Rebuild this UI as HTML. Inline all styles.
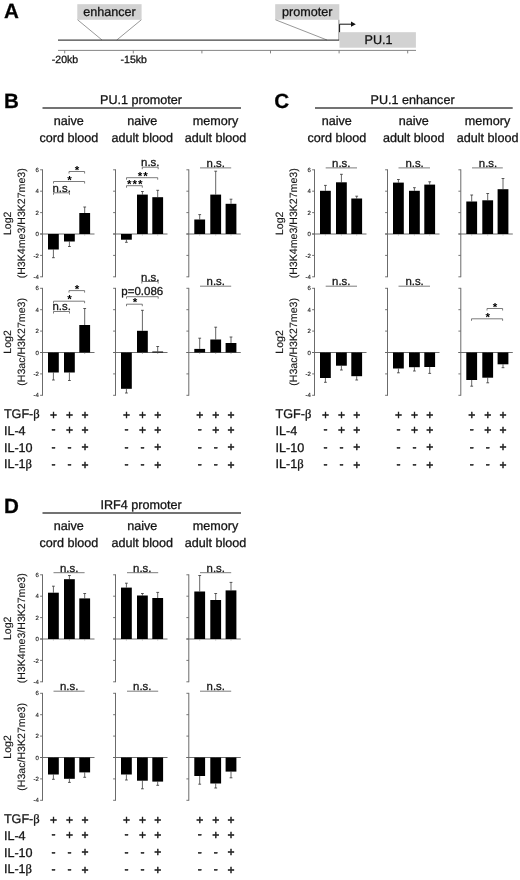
<!DOCTYPE html>
<html lang="en"><head><meta charset="utf-8"><title>Figure</title>
<style>
html,body{margin:0;padding:0;background:#fff;}
body{width:520px;height:880px;overflow:hidden;}
svg{display:block;font-family:"Liberation Sans",sans-serif;}
text{stroke:#1a1a1a;stroke-width:0.3px;text-rendering:geometricPrecision;}
text.n{stroke:none;}
text.t{stroke:#333;stroke-width:0.15px;}
text.s{stroke:#111;stroke-width:0.45px;}
</style></head><body>
<svg width="520" height="880" viewBox="0 0 520 880">
<rect width="520" height="880" fill="#fff"/>
<text x="3.90" y="18.20" font-size="20.6" text-anchor="start" fill="#000" font-weight="bold">A</text>
<rect x="77.3" y="4.2" width="64.3" height="15.6" fill="#d2d2d2"/>
<text x="109.50" y="16.10" font-size="12.6" text-anchor="middle" fill="#111">enhancer</text>
<line x1="77.60" y1="19.80" x2="102.00" y2="40.00" stroke="#999" stroke-width="1"/>
<line x1="141.30" y1="19.80" x2="116.80" y2="40.00" stroke="#999" stroke-width="1"/>
<rect x="275.2" y="4.2" width="64.1" height="15.6" fill="#d2d2d2"/>
<text x="307.30" y="16.10" font-size="12.6" text-anchor="middle" fill="#111">promoter</text>
<line x1="275.50" y1="19.80" x2="327.00" y2="40.00" stroke="#999" stroke-width="1"/>
<line x1="338.90" y1="19.80" x2="338.90" y2="40.00" stroke="#777" stroke-width="0.9"/>
<line x1="58.00" y1="40.00" x2="339.30" y2="40.00" stroke="#444" stroke-width="1.25"/>
<rect x="339.5" y="32.2" width="76.4" height="15.5" fill="#d2d2d2"/>
<text x="378.60" y="44.40" font-size="12.6" text-anchor="middle" fill="#111">PU.1</text>
<polyline points="339.6,32.2 339.6,24.2 351.5,24.2" fill="none" stroke="#111" stroke-width="1"/>
<polygon points="351,21.6 355.8,24.2 351,26.8" fill="#111"/>
<line x1="58.00" y1="50.40" x2="416.00" y2="50.40" stroke="#777" stroke-width="0.9"/>
<line x1="64.70" y1="50.40" x2="64.70" y2="53.40" stroke="#777" stroke-width="0.9"/>
<line x1="133.30" y1="50.40" x2="133.30" y2="53.40" stroke="#777" stroke-width="0.9"/>
<line x1="201.90" y1="50.40" x2="201.90" y2="53.40" stroke="#777" stroke-width="0.9"/>
<line x1="270.50" y1="50.40" x2="270.50" y2="53.40" stroke="#777" stroke-width="0.9"/>
<line x1="339.10" y1="50.40" x2="339.10" y2="53.40" stroke="#777" stroke-width="0.9"/>
<line x1="407.70" y1="50.40" x2="407.70" y2="53.40" stroke="#777" stroke-width="0.9"/>
<text x="65.00" y="63.30" font-size="10.5" text-anchor="middle" fill="#111">-20kb</text>
<text x="133.70" y="63.30" font-size="10.5" text-anchor="middle" fill="#111">-15kb</text>
<text x="4.10" y="108.30" font-size="20.6" text-anchor="start" fill="#000" font-weight="bold">B</text>
<text x="141.00" y="103.80" font-size="12.6" text-anchor="middle" fill="#111">PU.1 promoter</text>
<line x1="42.50" y1="108.00" x2="241.00" y2="108.00" stroke="#444" stroke-width="1.3"/>
<text x="68.80" y="125.00" font-size="12.6" text-anchor="middle" fill="#111">naive</text>
<text x="68.80" y="141.70" font-size="12.6" text-anchor="middle" fill="#111">cord blood</text>
<text x="142.30" y="125.00" font-size="12.6" text-anchor="middle" fill="#111">naive</text>
<text x="142.30" y="141.70" font-size="12.6" text-anchor="middle" fill="#111">adult blood</text>
<text x="215.50" y="125.00" font-size="12.6" text-anchor="middle" fill="#111">memory</text>
<text x="215.50" y="141.70" font-size="12.6" text-anchor="middle" fill="#111">adult blood</text>
<text transform="translate(11.10,223.30) rotate(-90)" class="t" font-size="10.6" text-anchor="middle" fill="#111">Log2</text>
<text transform="translate(25.30,223.30) rotate(-90)" class="t" font-size="10.6" text-anchor="middle" fill="#111">(H3K4me3/H3K27me3)</text>
<text transform="translate(11.10,341.90) rotate(-90)" class="t" font-size="10.6" text-anchor="middle" fill="#111">Log2</text>
<text transform="translate(25.30,341.90) rotate(-90)" class="t" font-size="10.6" text-anchor="middle" fill="#111">(H3ac/H3K27me3)</text>
<line x1="42.50" y1="169.40" x2="42.50" y2="277.20" stroke="#5a5a5a" stroke-width="0.9"/>
<line x1="40.10" y1="169.80" x2="42.50" y2="169.80" stroke="#666" stroke-width="0.9"/>
<text x="38.80" y="171.90" font-size="6" text-anchor="end" fill="#222" class="t">6</text>
<line x1="40.10" y1="191.20" x2="42.50" y2="191.20" stroke="#666" stroke-width="0.9"/>
<text x="38.80" y="193.30" font-size="6" text-anchor="end" fill="#222" class="t">4</text>
<line x1="40.10" y1="212.60" x2="42.50" y2="212.60" stroke="#666" stroke-width="0.9"/>
<text x="38.80" y="214.70" font-size="6" text-anchor="end" fill="#222" class="t">2</text>
<line x1="40.10" y1="234.00" x2="42.50" y2="234.00" stroke="#666" stroke-width="0.9"/>
<text x="38.80" y="236.10" font-size="6" text-anchor="end" fill="#222" class="t">0</text>
<line x1="40.10" y1="255.40" x2="42.50" y2="255.40" stroke="#666" stroke-width="0.9"/>
<text x="38.80" y="257.50" font-size="6" text-anchor="end" fill="#222" class="t">-2</text>
<line x1="40.10" y1="276.80" x2="42.50" y2="276.80" stroke="#666" stroke-width="0.9"/>
<text x="38.80" y="278.90" font-size="6" text-anchor="end" fill="#222" class="t">-4</text>
<line x1="40.10" y1="234.00" x2="94.50" y2="234.00" stroke="#666" stroke-width="0.95"/>
<line x1="53.40" y1="234.00" x2="53.40" y2="235.50" stroke="#999" stroke-width="0.7"/>
<line x1="53.40" y1="249.50" x2="53.40" y2="257.70" stroke="#333" stroke-width="0.75"/>
<line x1="52.00" y1="257.70" x2="54.80" y2="257.70" stroke="#333" stroke-width="0.8"/>
<rect x="48.00" y="234.00" width="10.80" height="15.50" fill="#000"/>
<line x1="69.40" y1="234.00" x2="69.40" y2="235.50" stroke="#999" stroke-width="0.7"/>
<line x1="69.40" y1="241.50" x2="69.40" y2="246.50" stroke="#333" stroke-width="0.75"/>
<line x1="68.00" y1="246.50" x2="70.80" y2="246.50" stroke="#333" stroke-width="0.8"/>
<rect x="64.00" y="234.00" width="10.80" height="7.50" fill="#000"/>
<line x1="84.70" y1="234.00" x2="84.70" y2="235.50" stroke="#999" stroke-width="0.7"/>
<line x1="84.70" y1="213.00" x2="84.70" y2="207.00" stroke="#333" stroke-width="0.75"/>
<line x1="83.30" y1="207.00" x2="86.10" y2="207.00" stroke="#333" stroke-width="0.8"/>
<rect x="79.30" y="213.00" width="10.80" height="21.00" fill="#000"/>
<polyline points="53.50,194.80 53.50,192.80 69.50,192.80 69.50,194.80" fill="none" stroke="#5a5a5a" stroke-width="0.8"/>
<text x="61.70" y="191.70" font-size="11.4" text-anchor="middle" fill="#111">n.s.</text>
<polyline points="53.50,183.50 53.50,181.50 84.60,181.50 84.60,183.50" fill="none" stroke="#5a5a5a" stroke-width="0.8"/>
<text x="69.50" y="183.80" font-size="11.6" text-anchor="middle" fill="#000" font-weight="bold" class="n">*</text>
<polyline points="69.00,173.50 69.00,171.50 84.60,171.50 84.60,173.50" fill="none" stroke="#5a5a5a" stroke-width="0.8"/>
<text x="77.00" y="173.90" font-size="11.6" text-anchor="middle" fill="#000" font-weight="bold" class="n">*</text>
<line x1="115.50" y1="169.40" x2="115.50" y2="277.20" stroke="#5a5a5a" stroke-width="0.9"/>
<line x1="113.10" y1="169.80" x2="115.50" y2="169.80" stroke="#666" stroke-width="0.9"/>
<line x1="113.10" y1="191.20" x2="115.50" y2="191.20" stroke="#666" stroke-width="0.9"/>
<line x1="113.10" y1="212.60" x2="115.50" y2="212.60" stroke="#666" stroke-width="0.9"/>
<line x1="113.10" y1="234.00" x2="115.50" y2="234.00" stroke="#666" stroke-width="0.9"/>
<line x1="113.10" y1="255.40" x2="115.50" y2="255.40" stroke="#666" stroke-width="0.9"/>
<line x1="113.10" y1="276.80" x2="115.50" y2="276.80" stroke="#666" stroke-width="0.9"/>
<line x1="113.10" y1="234.00" x2="167.50" y2="234.00" stroke="#666" stroke-width="0.95"/>
<line x1="126.40" y1="234.00" x2="126.40" y2="235.50" stroke="#999" stroke-width="0.7"/>
<line x1="126.40" y1="239.70" x2="126.40" y2="242.30" stroke="#333" stroke-width="0.75"/>
<line x1="125.00" y1="242.30" x2="127.80" y2="242.30" stroke="#333" stroke-width="0.8"/>
<rect x="121.00" y="234.00" width="10.80" height="5.70" fill="#000"/>
<line x1="142.40" y1="234.00" x2="142.40" y2="235.50" stroke="#999" stroke-width="0.7"/>
<line x1="142.40" y1="194.60" x2="142.40" y2="191.50" stroke="#333" stroke-width="0.75"/>
<line x1="141.00" y1="191.50" x2="143.80" y2="191.50" stroke="#333" stroke-width="0.8"/>
<rect x="137.00" y="194.60" width="10.80" height="39.40" fill="#000"/>
<line x1="157.70" y1="234.00" x2="157.70" y2="235.50" stroke="#999" stroke-width="0.7"/>
<line x1="157.70" y1="197.20" x2="157.70" y2="190.30" stroke="#333" stroke-width="0.75"/>
<line x1="156.30" y1="190.30" x2="159.10" y2="190.30" stroke="#333" stroke-width="0.8"/>
<rect x="152.30" y="197.20" width="10.80" height="36.80" fill="#000"/>
<polyline points="142.30,169.20 142.30,167.20 158.20,167.20 158.20,169.20" fill="none" stroke="#5a5a5a" stroke-width="0.8"/>
<text x="150.30" y="166.20" font-size="11.4" text-anchor="middle" fill="#111">n.s.</text>
<polyline points="126.50,179.70 126.50,177.70 157.70,177.70 157.70,179.70" fill="none" stroke="#5a5a5a" stroke-width="0.8"/>
<text x="143.20" y="179.60" font-size="11.6" text-anchor="middle" fill="#000" font-weight="bold" class="n" letter-spacing="1">**</text>
<polyline points="126.50,187.70 126.50,185.70 142.30,185.70 142.30,187.70" fill="none" stroke="#5a5a5a" stroke-width="0.8"/>
<text x="135.30" y="187.80" font-size="11.6" text-anchor="middle" fill="#000" font-weight="bold" class="n" letter-spacing="1">***</text>
<line x1="188.80" y1="169.40" x2="188.80" y2="277.20" stroke="#5a5a5a" stroke-width="0.9"/>
<line x1="186.40" y1="169.80" x2="188.80" y2="169.80" stroke="#666" stroke-width="0.9"/>
<line x1="186.40" y1="191.20" x2="188.80" y2="191.20" stroke="#666" stroke-width="0.9"/>
<line x1="186.40" y1="212.60" x2="188.80" y2="212.60" stroke="#666" stroke-width="0.9"/>
<line x1="186.40" y1="234.00" x2="188.80" y2="234.00" stroke="#666" stroke-width="0.9"/>
<line x1="186.40" y1="255.40" x2="188.80" y2="255.40" stroke="#666" stroke-width="0.9"/>
<line x1="186.40" y1="276.80" x2="188.80" y2="276.80" stroke="#666" stroke-width="0.9"/>
<line x1="186.40" y1="234.00" x2="240.80" y2="234.00" stroke="#666" stroke-width="0.95"/>
<line x1="199.70" y1="234.00" x2="199.70" y2="235.50" stroke="#999" stroke-width="0.7"/>
<line x1="199.70" y1="219.50" x2="199.70" y2="214.60" stroke="#333" stroke-width="0.75"/>
<line x1="198.30" y1="214.60" x2="201.10" y2="214.60" stroke="#333" stroke-width="0.8"/>
<rect x="194.30" y="219.50" width="10.80" height="14.50" fill="#000"/>
<line x1="215.70" y1="234.00" x2="215.70" y2="235.50" stroke="#999" stroke-width="0.7"/>
<line x1="215.70" y1="194.60" x2="215.70" y2="171.20" stroke="#333" stroke-width="0.75"/>
<line x1="214.30" y1="171.20" x2="217.10" y2="171.20" stroke="#333" stroke-width="0.8"/>
<rect x="210.30" y="194.60" width="10.80" height="39.40" fill="#000"/>
<line x1="231.00" y1="234.00" x2="231.00" y2="235.50" stroke="#999" stroke-width="0.7"/>
<line x1="231.00" y1="203.80" x2="231.00" y2="199.20" stroke="#333" stroke-width="0.75"/>
<line x1="229.60" y1="199.20" x2="232.40" y2="199.20" stroke="#333" stroke-width="0.8"/>
<rect x="225.60" y="203.80" width="10.80" height="30.20" fill="#000"/>
<line x1="200.00" y1="167.90" x2="231.20" y2="167.90" stroke="#5a5a5a" stroke-width="0.8"/>
<text x="215.80" y="166.60" font-size="11.4" text-anchor="middle" fill="#111">n.s.</text>
<line x1="42.50" y1="287.90" x2="42.50" y2="395.70" stroke="#5a5a5a" stroke-width="0.9"/>
<line x1="40.10" y1="288.30" x2="42.50" y2="288.30" stroke="#666" stroke-width="0.9"/>
<text x="38.80" y="290.40" font-size="6" text-anchor="end" fill="#222" class="t">6</text>
<line x1="40.10" y1="309.70" x2="42.50" y2="309.70" stroke="#666" stroke-width="0.9"/>
<text x="38.80" y="311.80" font-size="6" text-anchor="end" fill="#222" class="t">4</text>
<line x1="40.10" y1="331.10" x2="42.50" y2="331.10" stroke="#666" stroke-width="0.9"/>
<text x="38.80" y="333.20" font-size="6" text-anchor="end" fill="#222" class="t">2</text>
<line x1="40.10" y1="352.50" x2="42.50" y2="352.50" stroke="#666" stroke-width="0.9"/>
<text x="38.80" y="354.60" font-size="6" text-anchor="end" fill="#222" class="t">0</text>
<line x1="40.10" y1="373.90" x2="42.50" y2="373.90" stroke="#666" stroke-width="0.9"/>
<text x="38.80" y="376.00" font-size="6" text-anchor="end" fill="#222" class="t">-2</text>
<line x1="40.10" y1="395.30" x2="42.50" y2="395.30" stroke="#666" stroke-width="0.9"/>
<text x="38.80" y="397.40" font-size="6" text-anchor="end" fill="#222" class="t">-4</text>
<line x1="40.10" y1="352.50" x2="94.50" y2="352.50" stroke="#666" stroke-width="0.95"/>
<line x1="53.40" y1="352.50" x2="53.40" y2="354.00" stroke="#999" stroke-width="0.7"/>
<line x1="53.40" y1="372.50" x2="53.40" y2="380.00" stroke="#333" stroke-width="0.75"/>
<line x1="52.00" y1="380.00" x2="54.80" y2="380.00" stroke="#333" stroke-width="0.8"/>
<rect x="48.00" y="352.50" width="10.80" height="20.00" fill="#000"/>
<line x1="69.40" y1="352.50" x2="69.40" y2="354.00" stroke="#999" stroke-width="0.7"/>
<line x1="69.40" y1="372.50" x2="69.40" y2="380.50" stroke="#333" stroke-width="0.75"/>
<line x1="68.00" y1="380.50" x2="70.80" y2="380.50" stroke="#333" stroke-width="0.8"/>
<rect x="64.00" y="352.50" width="10.80" height="20.00" fill="#000"/>
<line x1="84.70" y1="352.50" x2="84.70" y2="354.00" stroke="#999" stroke-width="0.7"/>
<line x1="84.70" y1="325.00" x2="84.70" y2="308.50" stroke="#333" stroke-width="0.75"/>
<line x1="83.30" y1="308.50" x2="86.10" y2="308.50" stroke="#333" stroke-width="0.8"/>
<rect x="79.30" y="325.00" width="10.80" height="27.50" fill="#000"/>
<polyline points="53.50,313.50 53.50,311.50 69.50,311.50 69.50,313.50" fill="none" stroke="#5a5a5a" stroke-width="0.8"/>
<text x="61.70" y="310.40" font-size="11.4" text-anchor="middle" fill="#111">n.s.</text>
<polyline points="53.50,303.20 53.50,301.20 84.60,301.20 84.60,303.20" fill="none" stroke="#5a5a5a" stroke-width="0.8"/>
<text x="69.50" y="303.30" font-size="11.6" text-anchor="middle" fill="#000" font-weight="bold" class="n">*</text>
<polyline points="69.00,292.60 69.00,290.60 84.60,290.60 84.60,292.60" fill="none" stroke="#5a5a5a" stroke-width="0.8"/>
<text x="77.00" y="293.30" font-size="11.6" text-anchor="middle" fill="#000" font-weight="bold" class="n">*</text>
<line x1="115.50" y1="287.90" x2="115.50" y2="395.70" stroke="#5a5a5a" stroke-width="0.9"/>
<line x1="113.10" y1="288.30" x2="115.50" y2="288.30" stroke="#666" stroke-width="0.9"/>
<line x1="113.10" y1="309.70" x2="115.50" y2="309.70" stroke="#666" stroke-width="0.9"/>
<line x1="113.10" y1="331.10" x2="115.50" y2="331.10" stroke="#666" stroke-width="0.9"/>
<line x1="113.10" y1="352.50" x2="115.50" y2="352.50" stroke="#666" stroke-width="0.9"/>
<line x1="113.10" y1="373.90" x2="115.50" y2="373.90" stroke="#666" stroke-width="0.9"/>
<line x1="113.10" y1="395.30" x2="115.50" y2="395.30" stroke="#666" stroke-width="0.9"/>
<line x1="113.10" y1="352.50" x2="167.50" y2="352.50" stroke="#666" stroke-width="0.95"/>
<line x1="126.40" y1="352.50" x2="126.40" y2="354.00" stroke="#999" stroke-width="0.7"/>
<line x1="126.40" y1="388.80" x2="126.40" y2="393.00" stroke="#333" stroke-width="0.75"/>
<line x1="125.00" y1="393.00" x2="127.80" y2="393.00" stroke="#333" stroke-width="0.8"/>
<rect x="121.00" y="352.50" width="10.80" height="36.30" fill="#000"/>
<line x1="142.40" y1="352.50" x2="142.40" y2="354.00" stroke="#999" stroke-width="0.7"/>
<line x1="142.40" y1="330.80" x2="142.40" y2="310.30" stroke="#333" stroke-width="0.75"/>
<line x1="141.00" y1="310.30" x2="143.80" y2="310.30" stroke="#333" stroke-width="0.8"/>
<rect x="137.00" y="330.80" width="10.80" height="21.70" fill="#000"/>
<line x1="157.70" y1="352.50" x2="157.70" y2="354.00" stroke="#999" stroke-width="0.7"/>
<line x1="157.70" y1="351.50" x2="157.70" y2="346.50" stroke="#333" stroke-width="0.75"/>
<line x1="156.30" y1="346.50" x2="159.10" y2="346.50" stroke="#333" stroke-width="0.8"/>
<rect x="152.30" y="351.50" width="10.80" height="1.00" fill="#000"/>
<polyline points="141.80,283.50 141.80,281.50 158.20,281.50 158.20,283.50" fill="none" stroke="#5a5a5a" stroke-width="0.8"/>
<text x="150.30" y="280.80" font-size="11.4" text-anchor="middle" fill="#111">n.s.</text>
<text x="142.30" y="294.60" font-size="11.5" text-anchor="middle" fill="#111">p=0.086</text>
<polyline points="126.50,298.70 126.50,296.70 158.20,296.70 158.20,298.70" fill="none" stroke="#5a5a5a" stroke-width="0.8"/>
<polyline points="126.50,306.20 126.50,304.20 142.30,304.20 142.30,306.20" fill="none" stroke="#5a5a5a" stroke-width="0.8"/>
<text x="135.00" y="306.20" font-size="11.6" text-anchor="middle" fill="#000" font-weight="bold" class="n">*</text>
<line x1="188.80" y1="287.90" x2="188.80" y2="395.70" stroke="#5a5a5a" stroke-width="0.9"/>
<line x1="186.40" y1="288.30" x2="188.80" y2="288.30" stroke="#666" stroke-width="0.9"/>
<line x1="186.40" y1="309.70" x2="188.80" y2="309.70" stroke="#666" stroke-width="0.9"/>
<line x1="186.40" y1="331.10" x2="188.80" y2="331.10" stroke="#666" stroke-width="0.9"/>
<line x1="186.40" y1="352.50" x2="188.80" y2="352.50" stroke="#666" stroke-width="0.9"/>
<line x1="186.40" y1="373.90" x2="188.80" y2="373.90" stroke="#666" stroke-width="0.9"/>
<line x1="186.40" y1="395.30" x2="188.80" y2="395.30" stroke="#666" stroke-width="0.9"/>
<line x1="186.40" y1="352.50" x2="240.80" y2="352.50" stroke="#666" stroke-width="0.95"/>
<line x1="199.70" y1="352.50" x2="199.70" y2="354.00" stroke="#999" stroke-width="0.7"/>
<line x1="199.70" y1="348.90" x2="199.70" y2="338.20" stroke="#333" stroke-width="0.75"/>
<line x1="198.30" y1="338.20" x2="201.10" y2="338.20" stroke="#333" stroke-width="0.8"/>
<rect x="194.30" y="348.90" width="10.80" height="3.60" fill="#000"/>
<line x1="215.70" y1="352.50" x2="215.70" y2="354.00" stroke="#999" stroke-width="0.7"/>
<line x1="215.70" y1="339.50" x2="215.70" y2="327.20" stroke="#333" stroke-width="0.75"/>
<line x1="214.30" y1="327.20" x2="217.10" y2="327.20" stroke="#333" stroke-width="0.8"/>
<rect x="210.30" y="339.50" width="10.80" height="13.00" fill="#000"/>
<line x1="231.00" y1="352.50" x2="231.00" y2="354.00" stroke="#999" stroke-width="0.7"/>
<line x1="231.00" y1="343.00" x2="231.00" y2="337.00" stroke="#333" stroke-width="0.75"/>
<line x1="229.60" y1="337.00" x2="232.40" y2="337.00" stroke="#333" stroke-width="0.8"/>
<rect x="225.60" y="343.00" width="10.80" height="9.50" fill="#000"/>
<line x1="200.00" y1="286.20" x2="231.20" y2="286.20" stroke="#5a5a5a" stroke-width="0.8"/>
<text x="215.80" y="285.40" font-size="11.4" text-anchor="middle" fill="#111">n.s.</text>
<text x="3.90" y="418.00" font-size="12.6" text-anchor="start" fill="#111">TGF-<tspan font-family="Liberation Serif, serif">β</tspan></text>
<text x="53.50" y="418.60" font-size="12" text-anchor="middle" fill="#111" class="s">+</text>
<text x="69.40" y="418.60" font-size="12" text-anchor="middle" fill="#111" class="s">+</text>
<text x="84.90" y="418.60" font-size="12" text-anchor="middle" fill="#111" class="s">+</text>
<text x="126.50" y="418.60" font-size="12" text-anchor="middle" fill="#111" class="s">+</text>
<text x="142.40" y="418.60" font-size="12" text-anchor="middle" fill="#111" class="s">+</text>
<text x="157.80" y="418.60" font-size="12" text-anchor="middle" fill="#111" class="s">+</text>
<text x="199.80" y="418.60" font-size="12" text-anchor="middle" fill="#111" class="s">+</text>
<text x="215.70" y="418.60" font-size="12" text-anchor="middle" fill="#111" class="s">+</text>
<text x="231.10" y="418.60" font-size="12" text-anchor="middle" fill="#111" class="s">+</text>
<text x="3.90" y="434.80" font-size="12.6" text-anchor="start" fill="#111">IL-4</text>
<text x="53.50" y="433.40" font-size="12" text-anchor="middle" fill="#111" class="s">-</text>
<text x="69.40" y="434.20" font-size="12" text-anchor="middle" fill="#111" class="s">+</text>
<text x="84.90" y="434.20" font-size="12" text-anchor="middle" fill="#111" class="s">+</text>
<text x="126.50" y="433.40" font-size="12" text-anchor="middle" fill="#111" class="s">-</text>
<text x="142.40" y="434.20" font-size="12" text-anchor="middle" fill="#111" class="s">+</text>
<text x="157.80" y="434.20" font-size="12" text-anchor="middle" fill="#111" class="s">+</text>
<text x="199.80" y="433.40" font-size="12" text-anchor="middle" fill="#111" class="s">-</text>
<text x="215.70" y="434.20" font-size="12" text-anchor="middle" fill="#111" class="s">+</text>
<text x="231.10" y="434.20" font-size="12" text-anchor="middle" fill="#111" class="s">+</text>
<text x="3.90" y="451.60" font-size="12.6" text-anchor="start" fill="#111">IL-10</text>
<text x="53.50" y="450.60" font-size="12" text-anchor="middle" fill="#111" class="s">-</text>
<text x="69.40" y="450.60" font-size="12" text-anchor="middle" fill="#111" class="s">-</text>
<text x="84.90" y="451.40" font-size="12" text-anchor="middle" fill="#111" class="s">+</text>
<text x="126.50" y="450.60" font-size="12" text-anchor="middle" fill="#111" class="s">-</text>
<text x="142.40" y="450.60" font-size="12" text-anchor="middle" fill="#111" class="s">-</text>
<text x="157.80" y="451.40" font-size="12" text-anchor="middle" fill="#111" class="s">+</text>
<text x="199.80" y="450.60" font-size="12" text-anchor="middle" fill="#111" class="s">-</text>
<text x="215.70" y="450.60" font-size="12" text-anchor="middle" fill="#111" class="s">-</text>
<text x="231.10" y="451.40" font-size="12" text-anchor="middle" fill="#111" class="s">+</text>
<text x="3.90" y="468.10" font-size="12.6" text-anchor="start" fill="#111">IL-1<tspan font-family="Liberation Serif, serif">β</tspan></text>
<text x="53.50" y="467.90" font-size="12" text-anchor="middle" fill="#111" class="s">-</text>
<text x="69.40" y="467.90" font-size="12" text-anchor="middle" fill="#111" class="s">-</text>
<text x="84.90" y="468.70" font-size="12" text-anchor="middle" fill="#111" class="s">+</text>
<text x="126.50" y="467.90" font-size="12" text-anchor="middle" fill="#111" class="s">-</text>
<text x="142.40" y="467.90" font-size="12" text-anchor="middle" fill="#111" class="s">-</text>
<text x="157.80" y="468.70" font-size="12" text-anchor="middle" fill="#111" class="s">+</text>
<text x="199.80" y="467.90" font-size="12" text-anchor="middle" fill="#111" class="s">-</text>
<text x="215.70" y="467.90" font-size="12" text-anchor="middle" fill="#111" class="s">-</text>
<text x="231.10" y="468.70" font-size="12" text-anchor="middle" fill="#111" class="s">+</text>
<text x="274.20" y="108.30" font-size="20.6" text-anchor="start" fill="#000" font-weight="bold">C</text>
<text x="412.60" y="103.80" font-size="12.6" text-anchor="middle" fill="#111">PU.1 enhancer</text>
<line x1="315.00" y1="108.00" x2="512.70" y2="108.00" stroke="#444" stroke-width="1.3"/>
<text x="336.80" y="125.00" font-size="12.6" text-anchor="middle" fill="#111">naive</text>
<text x="336.80" y="141.70" font-size="12.6" text-anchor="middle" fill="#111">cord blood</text>
<text x="413.80" y="125.00" font-size="12.6" text-anchor="middle" fill="#111">naive</text>
<text x="413.80" y="141.70" font-size="12.6" text-anchor="middle" fill="#111">adult blood</text>
<text x="487.60" y="125.00" font-size="12.6" text-anchor="middle" fill="#111">memory</text>
<text x="487.60" y="141.70" font-size="12.6" text-anchor="middle" fill="#111">adult blood</text>
<text transform="translate(283.10,223.30) rotate(-90)" class="t" font-size="10.6" text-anchor="middle" fill="#111">Log2</text>
<text transform="translate(297.30,223.30) rotate(-90)" class="t" font-size="10.6" text-anchor="middle" fill="#111">(H3K4me3/H3K27me3)</text>
<text transform="translate(283.10,341.90) rotate(-90)" class="t" font-size="10.6" text-anchor="middle" fill="#111">Log2</text>
<text transform="translate(297.30,341.90) rotate(-90)" class="t" font-size="10.6" text-anchor="middle" fill="#111">(H3ac/H3K27me3)</text>
<line x1="314.50" y1="169.40" x2="314.50" y2="277.20" stroke="#5a5a5a" stroke-width="0.9"/>
<line x1="312.10" y1="169.80" x2="314.50" y2="169.80" stroke="#666" stroke-width="0.9"/>
<text x="310.80" y="171.90" font-size="6" text-anchor="end" fill="#222" class="t">6</text>
<line x1="312.10" y1="191.20" x2="314.50" y2="191.20" stroke="#666" stroke-width="0.9"/>
<text x="310.80" y="193.30" font-size="6" text-anchor="end" fill="#222" class="t">4</text>
<line x1="312.10" y1="212.60" x2="314.50" y2="212.60" stroke="#666" stroke-width="0.9"/>
<text x="310.80" y="214.70" font-size="6" text-anchor="end" fill="#222" class="t">2</text>
<line x1="312.10" y1="234.00" x2="314.50" y2="234.00" stroke="#666" stroke-width="0.9"/>
<text x="310.80" y="236.10" font-size="6" text-anchor="end" fill="#222" class="t">0</text>
<line x1="312.10" y1="255.40" x2="314.50" y2="255.40" stroke="#666" stroke-width="0.9"/>
<text x="310.80" y="257.50" font-size="6" text-anchor="end" fill="#222" class="t">-2</text>
<line x1="312.10" y1="276.80" x2="314.50" y2="276.80" stroke="#666" stroke-width="0.9"/>
<text x="310.80" y="278.90" font-size="6" text-anchor="end" fill="#222" class="t">-4</text>
<line x1="312.10" y1="234.00" x2="366.50" y2="234.00" stroke="#666" stroke-width="0.95"/>
<line x1="325.40" y1="234.00" x2="325.40" y2="235.50" stroke="#999" stroke-width="0.7"/>
<line x1="325.40" y1="190.80" x2="325.40" y2="185.40" stroke="#333" stroke-width="0.75"/>
<line x1="324.00" y1="185.40" x2="326.80" y2="185.40" stroke="#333" stroke-width="0.8"/>
<rect x="320.00" y="190.80" width="10.80" height="43.20" fill="#000"/>
<line x1="341.40" y1="234.00" x2="341.40" y2="235.50" stroke="#999" stroke-width="0.7"/>
<line x1="341.40" y1="182.30" x2="341.40" y2="174.30" stroke="#333" stroke-width="0.75"/>
<line x1="340.00" y1="174.30" x2="342.80" y2="174.30" stroke="#333" stroke-width="0.8"/>
<rect x="336.00" y="182.30" width="10.80" height="51.70" fill="#000"/>
<line x1="356.70" y1="234.00" x2="356.70" y2="235.50" stroke="#999" stroke-width="0.7"/>
<line x1="356.70" y1="198.50" x2="356.70" y2="196.20" stroke="#333" stroke-width="0.75"/>
<line x1="355.30" y1="196.20" x2="358.10" y2="196.20" stroke="#333" stroke-width="0.8"/>
<rect x="351.30" y="198.50" width="10.80" height="35.50" fill="#000"/>
<line x1="325.70" y1="167.90" x2="357.00" y2="167.90" stroke="#5a5a5a" stroke-width="0.8"/>
<text x="341.30" y="166.60" font-size="11.4" text-anchor="middle" fill="#111">n.s.</text>
<line x1="387.50" y1="169.40" x2="387.50" y2="277.20" stroke="#5a5a5a" stroke-width="0.9"/>
<line x1="385.10" y1="169.80" x2="387.50" y2="169.80" stroke="#666" stroke-width="0.9"/>
<line x1="385.10" y1="191.20" x2="387.50" y2="191.20" stroke="#666" stroke-width="0.9"/>
<line x1="385.10" y1="212.60" x2="387.50" y2="212.60" stroke="#666" stroke-width="0.9"/>
<line x1="385.10" y1="234.00" x2="387.50" y2="234.00" stroke="#666" stroke-width="0.9"/>
<line x1="385.10" y1="255.40" x2="387.50" y2="255.40" stroke="#666" stroke-width="0.9"/>
<line x1="385.10" y1="276.80" x2="387.50" y2="276.80" stroke="#666" stroke-width="0.9"/>
<line x1="385.10" y1="234.00" x2="439.50" y2="234.00" stroke="#666" stroke-width="0.95"/>
<line x1="398.40" y1="234.00" x2="398.40" y2="235.50" stroke="#999" stroke-width="0.7"/>
<line x1="398.40" y1="182.60" x2="398.40" y2="179.50" stroke="#333" stroke-width="0.75"/>
<line x1="397.00" y1="179.50" x2="399.80" y2="179.50" stroke="#333" stroke-width="0.8"/>
<rect x="393.00" y="182.60" width="10.80" height="51.40" fill="#000"/>
<line x1="414.40" y1="234.00" x2="414.40" y2="235.50" stroke="#999" stroke-width="0.7"/>
<line x1="414.40" y1="190.80" x2="414.40" y2="187.70" stroke="#333" stroke-width="0.75"/>
<line x1="413.00" y1="187.70" x2="415.80" y2="187.70" stroke="#333" stroke-width="0.8"/>
<rect x="409.00" y="190.80" width="10.80" height="43.20" fill="#000"/>
<line x1="429.70" y1="234.00" x2="429.70" y2="235.50" stroke="#999" stroke-width="0.7"/>
<line x1="429.70" y1="184.60" x2="429.70" y2="181.80" stroke="#333" stroke-width="0.75"/>
<line x1="428.30" y1="181.80" x2="431.10" y2="181.80" stroke="#333" stroke-width="0.8"/>
<rect x="424.30" y="184.60" width="10.80" height="49.40" fill="#000"/>
<line x1="398.50" y1="167.90" x2="430.00" y2="167.90" stroke="#5a5a5a" stroke-width="0.8"/>
<text x="414.60" y="166.60" font-size="11.4" text-anchor="middle" fill="#111">n.s.</text>
<line x1="460.80" y1="169.40" x2="460.80" y2="277.20" stroke="#5a5a5a" stroke-width="0.9"/>
<line x1="458.40" y1="169.80" x2="460.80" y2="169.80" stroke="#666" stroke-width="0.9"/>
<line x1="458.40" y1="191.20" x2="460.80" y2="191.20" stroke="#666" stroke-width="0.9"/>
<line x1="458.40" y1="212.60" x2="460.80" y2="212.60" stroke="#666" stroke-width="0.9"/>
<line x1="458.40" y1="234.00" x2="460.80" y2="234.00" stroke="#666" stroke-width="0.9"/>
<line x1="458.40" y1="255.40" x2="460.80" y2="255.40" stroke="#666" stroke-width="0.9"/>
<line x1="458.40" y1="276.80" x2="460.80" y2="276.80" stroke="#666" stroke-width="0.9"/>
<line x1="458.40" y1="234.00" x2="512.80" y2="234.00" stroke="#666" stroke-width="0.95"/>
<line x1="471.70" y1="234.00" x2="471.70" y2="235.50" stroke="#999" stroke-width="0.7"/>
<line x1="471.70" y1="201.50" x2="471.70" y2="195.00" stroke="#333" stroke-width="0.75"/>
<line x1="470.30" y1="195.00" x2="473.10" y2="195.00" stroke="#333" stroke-width="0.8"/>
<rect x="466.30" y="201.50" width="10.80" height="32.50" fill="#000"/>
<line x1="487.70" y1="234.00" x2="487.70" y2="235.50" stroke="#999" stroke-width="0.7"/>
<line x1="487.70" y1="200.30" x2="487.70" y2="193.50" stroke="#333" stroke-width="0.75"/>
<line x1="486.30" y1="193.50" x2="489.10" y2="193.50" stroke="#333" stroke-width="0.8"/>
<rect x="482.30" y="200.30" width="10.80" height="33.70" fill="#000"/>
<line x1="503.00" y1="234.00" x2="503.00" y2="235.50" stroke="#999" stroke-width="0.7"/>
<line x1="503.00" y1="189.20" x2="503.00" y2="178.50" stroke="#333" stroke-width="0.75"/>
<line x1="501.60" y1="178.50" x2="504.40" y2="178.50" stroke="#333" stroke-width="0.8"/>
<rect x="497.60" y="189.20" width="10.80" height="44.80" fill="#000"/>
<line x1="472.00" y1="167.90" x2="502.80" y2="167.90" stroke="#5a5a5a" stroke-width="0.8"/>
<text x="488.00" y="166.60" font-size="11.4" text-anchor="middle" fill="#111">n.s.</text>
<line x1="314.50" y1="287.90" x2="314.50" y2="395.70" stroke="#5a5a5a" stroke-width="0.9"/>
<line x1="312.10" y1="288.30" x2="314.50" y2="288.30" stroke="#666" stroke-width="0.9"/>
<text x="310.80" y="290.40" font-size="6" text-anchor="end" fill="#222" class="t">6</text>
<line x1="312.10" y1="309.70" x2="314.50" y2="309.70" stroke="#666" stroke-width="0.9"/>
<text x="310.80" y="311.80" font-size="6" text-anchor="end" fill="#222" class="t">4</text>
<line x1="312.10" y1="331.10" x2="314.50" y2="331.10" stroke="#666" stroke-width="0.9"/>
<text x="310.80" y="333.20" font-size="6" text-anchor="end" fill="#222" class="t">2</text>
<line x1="312.10" y1="352.50" x2="314.50" y2="352.50" stroke="#666" stroke-width="0.9"/>
<text x="310.80" y="354.60" font-size="6" text-anchor="end" fill="#222" class="t">0</text>
<line x1="312.10" y1="373.90" x2="314.50" y2="373.90" stroke="#666" stroke-width="0.9"/>
<text x="310.80" y="376.00" font-size="6" text-anchor="end" fill="#222" class="t">-2</text>
<line x1="312.10" y1="395.30" x2="314.50" y2="395.30" stroke="#666" stroke-width="0.9"/>
<text x="310.80" y="397.40" font-size="6" text-anchor="end" fill="#222" class="t">-4</text>
<line x1="312.10" y1="352.50" x2="366.50" y2="352.50" stroke="#666" stroke-width="0.95"/>
<line x1="325.40" y1="352.50" x2="325.40" y2="354.00" stroke="#999" stroke-width="0.7"/>
<line x1="325.40" y1="378.00" x2="325.40" y2="382.30" stroke="#333" stroke-width="0.75"/>
<line x1="324.00" y1="382.30" x2="326.80" y2="382.30" stroke="#333" stroke-width="0.8"/>
<rect x="320.00" y="352.50" width="10.80" height="25.50" fill="#000"/>
<line x1="341.40" y1="352.50" x2="341.40" y2="354.00" stroke="#999" stroke-width="0.7"/>
<line x1="341.40" y1="365.70" x2="341.40" y2="370.00" stroke="#333" stroke-width="0.75"/>
<line x1="340.00" y1="370.00" x2="342.80" y2="370.00" stroke="#333" stroke-width="0.8"/>
<rect x="336.00" y="352.50" width="10.80" height="13.20" fill="#000"/>
<line x1="356.70" y1="352.50" x2="356.70" y2="354.00" stroke="#999" stroke-width="0.7"/>
<line x1="356.70" y1="376.20" x2="356.70" y2="380.00" stroke="#333" stroke-width="0.75"/>
<line x1="355.30" y1="380.00" x2="358.10" y2="380.00" stroke="#333" stroke-width="0.8"/>
<rect x="351.30" y="352.50" width="10.80" height="23.70" fill="#000"/>
<line x1="325.70" y1="286.20" x2="357.00" y2="286.20" stroke="#5a5a5a" stroke-width="0.8"/>
<text x="341.30" y="285.40" font-size="11.4" text-anchor="middle" fill="#111">n.s.</text>
<line x1="387.50" y1="287.90" x2="387.50" y2="395.70" stroke="#5a5a5a" stroke-width="0.9"/>
<line x1="385.10" y1="288.30" x2="387.50" y2="288.30" stroke="#666" stroke-width="0.9"/>
<line x1="385.10" y1="309.70" x2="387.50" y2="309.70" stroke="#666" stroke-width="0.9"/>
<line x1="385.10" y1="331.10" x2="387.50" y2="331.10" stroke="#666" stroke-width="0.9"/>
<line x1="385.10" y1="352.50" x2="387.50" y2="352.50" stroke="#666" stroke-width="0.9"/>
<line x1="385.10" y1="373.90" x2="387.50" y2="373.90" stroke="#666" stroke-width="0.9"/>
<line x1="385.10" y1="395.30" x2="387.50" y2="395.30" stroke="#666" stroke-width="0.9"/>
<line x1="385.10" y1="352.50" x2="439.50" y2="352.50" stroke="#666" stroke-width="0.95"/>
<line x1="398.40" y1="352.50" x2="398.40" y2="354.00" stroke="#999" stroke-width="0.7"/>
<line x1="398.40" y1="368.50" x2="398.40" y2="372.80" stroke="#333" stroke-width="0.75"/>
<line x1="397.00" y1="372.80" x2="399.80" y2="372.80" stroke="#333" stroke-width="0.8"/>
<rect x="393.00" y="352.50" width="10.80" height="16.00" fill="#000"/>
<line x1="414.40" y1="352.50" x2="414.40" y2="354.00" stroke="#999" stroke-width="0.7"/>
<line x1="414.40" y1="367.20" x2="414.40" y2="371.00" stroke="#333" stroke-width="0.75"/>
<line x1="413.00" y1="371.00" x2="415.80" y2="371.00" stroke="#333" stroke-width="0.8"/>
<rect x="409.00" y="352.50" width="10.80" height="14.70" fill="#000"/>
<line x1="429.70" y1="352.50" x2="429.70" y2="354.00" stroke="#999" stroke-width="0.7"/>
<line x1="429.70" y1="367.00" x2="429.70" y2="373.40" stroke="#333" stroke-width="0.75"/>
<line x1="428.30" y1="373.40" x2="431.10" y2="373.40" stroke="#333" stroke-width="0.8"/>
<rect x="424.30" y="352.50" width="10.80" height="14.50" fill="#000"/>
<line x1="398.50" y1="286.20" x2="430.00" y2="286.20" stroke="#5a5a5a" stroke-width="0.8"/>
<text x="414.60" y="285.40" font-size="11.4" text-anchor="middle" fill="#111">n.s.</text>
<line x1="460.80" y1="287.90" x2="460.80" y2="395.70" stroke="#5a5a5a" stroke-width="0.9"/>
<line x1="458.40" y1="288.30" x2="460.80" y2="288.30" stroke="#666" stroke-width="0.9"/>
<line x1="458.40" y1="309.70" x2="460.80" y2="309.70" stroke="#666" stroke-width="0.9"/>
<line x1="458.40" y1="331.10" x2="460.80" y2="331.10" stroke="#666" stroke-width="0.9"/>
<line x1="458.40" y1="352.50" x2="460.80" y2="352.50" stroke="#666" stroke-width="0.9"/>
<line x1="458.40" y1="373.90" x2="460.80" y2="373.90" stroke="#666" stroke-width="0.9"/>
<line x1="458.40" y1="395.30" x2="460.80" y2="395.30" stroke="#666" stroke-width="0.9"/>
<line x1="458.40" y1="352.50" x2="512.80" y2="352.50" stroke="#666" stroke-width="0.95"/>
<line x1="471.70" y1="352.50" x2="471.70" y2="354.00" stroke="#999" stroke-width="0.7"/>
<line x1="471.70" y1="380.00" x2="471.70" y2="386.20" stroke="#333" stroke-width="0.75"/>
<line x1="470.30" y1="386.20" x2="473.10" y2="386.20" stroke="#333" stroke-width="0.8"/>
<rect x="466.30" y="352.50" width="10.80" height="27.50" fill="#000"/>
<line x1="487.70" y1="352.50" x2="487.70" y2="354.00" stroke="#999" stroke-width="0.7"/>
<line x1="487.70" y1="377.70" x2="487.70" y2="382.80" stroke="#333" stroke-width="0.75"/>
<line x1="486.30" y1="382.80" x2="489.10" y2="382.80" stroke="#333" stroke-width="0.8"/>
<rect x="482.30" y="352.50" width="10.80" height="25.20" fill="#000"/>
<line x1="503.00" y1="352.50" x2="503.00" y2="354.00" stroke="#999" stroke-width="0.7"/>
<line x1="503.00" y1="364.30" x2="503.00" y2="367.70" stroke="#333" stroke-width="0.75"/>
<line x1="501.60" y1="367.70" x2="504.40" y2="367.70" stroke="#333" stroke-width="0.8"/>
<rect x="497.60" y="352.50" width="10.80" height="11.80" fill="#000"/>
<polyline points="471.50,320.80 471.50,318.80 502.60,318.80 502.60,320.80" fill="none" stroke="#5a5a5a" stroke-width="0.8"/>
<text x="487.70" y="320.80" font-size="11.6" text-anchor="middle" fill="#000" font-weight="bold" class="n">*</text>
<polyline points="487.00,310.50 487.00,308.50 502.60,308.50 502.60,310.50" fill="none" stroke="#5a5a5a" stroke-width="0.8"/>
<text x="495.00" y="311.10" font-size="11.6" text-anchor="middle" fill="#000" font-weight="bold" class="n">*</text>
<text x="275.60" y="418.00" font-size="12.6" text-anchor="start" fill="#111">TGF-<tspan font-family="Liberation Serif, serif">β</tspan></text>
<text x="325.50" y="418.60" font-size="12" text-anchor="middle" fill="#111" class="s">+</text>
<text x="341.40" y="418.60" font-size="12" text-anchor="middle" fill="#111" class="s">+</text>
<text x="356.80" y="418.60" font-size="12" text-anchor="middle" fill="#111" class="s">+</text>
<text x="398.50" y="418.60" font-size="12" text-anchor="middle" fill="#111" class="s">+</text>
<text x="414.40" y="418.60" font-size="12" text-anchor="middle" fill="#111" class="s">+</text>
<text x="429.80" y="418.60" font-size="12" text-anchor="middle" fill="#111" class="s">+</text>
<text x="471.80" y="418.60" font-size="12" text-anchor="middle" fill="#111" class="s">+</text>
<text x="487.70" y="418.60" font-size="12" text-anchor="middle" fill="#111" class="s">+</text>
<text x="503.10" y="418.60" font-size="12" text-anchor="middle" fill="#111" class="s">+</text>
<text x="275.60" y="434.80" font-size="12.6" text-anchor="start" fill="#111">IL-4</text>
<text x="325.50" y="433.40" font-size="12" text-anchor="middle" fill="#111" class="s">-</text>
<text x="341.40" y="434.20" font-size="12" text-anchor="middle" fill="#111" class="s">+</text>
<text x="356.80" y="434.20" font-size="12" text-anchor="middle" fill="#111" class="s">+</text>
<text x="398.50" y="433.40" font-size="12" text-anchor="middle" fill="#111" class="s">-</text>
<text x="414.40" y="434.20" font-size="12" text-anchor="middle" fill="#111" class="s">+</text>
<text x="429.80" y="434.20" font-size="12" text-anchor="middle" fill="#111" class="s">+</text>
<text x="471.80" y="433.40" font-size="12" text-anchor="middle" fill="#111" class="s">-</text>
<text x="487.70" y="434.20" font-size="12" text-anchor="middle" fill="#111" class="s">+</text>
<text x="503.10" y="434.20" font-size="12" text-anchor="middle" fill="#111" class="s">+</text>
<text x="275.60" y="451.60" font-size="12.6" text-anchor="start" fill="#111">IL-10</text>
<text x="325.50" y="450.60" font-size="12" text-anchor="middle" fill="#111" class="s">-</text>
<text x="341.40" y="450.60" font-size="12" text-anchor="middle" fill="#111" class="s">-</text>
<text x="356.80" y="451.40" font-size="12" text-anchor="middle" fill="#111" class="s">+</text>
<text x="398.50" y="450.60" font-size="12" text-anchor="middle" fill="#111" class="s">-</text>
<text x="414.40" y="450.60" font-size="12" text-anchor="middle" fill="#111" class="s">-</text>
<text x="429.80" y="451.40" font-size="12" text-anchor="middle" fill="#111" class="s">+</text>
<text x="471.80" y="450.60" font-size="12" text-anchor="middle" fill="#111" class="s">-</text>
<text x="487.70" y="450.60" font-size="12" text-anchor="middle" fill="#111" class="s">-</text>
<text x="503.10" y="451.40" font-size="12" text-anchor="middle" fill="#111" class="s">+</text>
<text x="275.60" y="468.10" font-size="12.6" text-anchor="start" fill="#111">IL-1<tspan font-family="Liberation Serif, serif">β</tspan></text>
<text x="325.50" y="467.90" font-size="12" text-anchor="middle" fill="#111" class="s">-</text>
<text x="341.40" y="467.90" font-size="12" text-anchor="middle" fill="#111" class="s">-</text>
<text x="356.80" y="468.70" font-size="12" text-anchor="middle" fill="#111" class="s">+</text>
<text x="398.50" y="467.90" font-size="12" text-anchor="middle" fill="#111" class="s">-</text>
<text x="414.40" y="467.90" font-size="12" text-anchor="middle" fill="#111" class="s">-</text>
<text x="429.80" y="468.70" font-size="12" text-anchor="middle" fill="#111" class="s">+</text>
<text x="471.80" y="467.90" font-size="12" text-anchor="middle" fill="#111" class="s">-</text>
<text x="487.70" y="467.90" font-size="12" text-anchor="middle" fill="#111" class="s">-</text>
<text x="503.10" y="468.70" font-size="12" text-anchor="middle" fill="#111" class="s">+</text>
<text x="4.10" y="513.30" font-size="20.6" text-anchor="start" fill="#000" font-weight="bold">D</text>
<text x="141.00" y="508.80" font-size="12.6" text-anchor="middle" fill="#111">IRF4 promoter</text>
<line x1="42.50" y1="513.00" x2="241.00" y2="513.00" stroke="#444" stroke-width="1.3"/>
<text x="68.80" y="530.00" font-size="12.6" text-anchor="middle" fill="#111">naive</text>
<text x="68.80" y="546.70" font-size="12.6" text-anchor="middle" fill="#111">cord blood</text>
<text x="142.30" y="530.00" font-size="12.6" text-anchor="middle" fill="#111">naive</text>
<text x="142.30" y="546.70" font-size="12.6" text-anchor="middle" fill="#111">adult blood</text>
<text x="215.50" y="530.00" font-size="12.6" text-anchor="middle" fill="#111">memory</text>
<text x="215.50" y="546.70" font-size="12.6" text-anchor="middle" fill="#111">adult blood</text>
<text transform="translate(11.10,628.30) rotate(-90)" class="t" font-size="10.6" text-anchor="middle" fill="#111">Log2</text>
<text transform="translate(25.30,628.30) rotate(-90)" class="t" font-size="10.6" text-anchor="middle" fill="#111">(H3K4me3/H3K27me3)</text>
<text transform="translate(11.10,746.90) rotate(-90)" class="t" font-size="10.6" text-anchor="middle" fill="#111">Log2</text>
<text transform="translate(25.30,746.90) rotate(-90)" class="t" font-size="10.6" text-anchor="middle" fill="#111">(H3ac/H3K27me3)</text>
<line x1="42.50" y1="574.40" x2="42.50" y2="682.20" stroke="#5a5a5a" stroke-width="0.9"/>
<line x1="40.10" y1="574.80" x2="42.50" y2="574.80" stroke="#666" stroke-width="0.9"/>
<text x="38.80" y="576.90" font-size="6" text-anchor="end" fill="#222" class="t">6</text>
<line x1="40.10" y1="596.20" x2="42.50" y2="596.20" stroke="#666" stroke-width="0.9"/>
<text x="38.80" y="598.30" font-size="6" text-anchor="end" fill="#222" class="t">4</text>
<line x1="40.10" y1="617.60" x2="42.50" y2="617.60" stroke="#666" stroke-width="0.9"/>
<text x="38.80" y="619.70" font-size="6" text-anchor="end" fill="#222" class="t">2</text>
<line x1="40.10" y1="639.00" x2="42.50" y2="639.00" stroke="#666" stroke-width="0.9"/>
<text x="38.80" y="641.10" font-size="6" text-anchor="end" fill="#222" class="t">0</text>
<line x1="40.10" y1="660.40" x2="42.50" y2="660.40" stroke="#666" stroke-width="0.9"/>
<text x="38.80" y="662.50" font-size="6" text-anchor="end" fill="#222" class="t">-2</text>
<line x1="40.10" y1="681.80" x2="42.50" y2="681.80" stroke="#666" stroke-width="0.9"/>
<text x="38.80" y="683.90" font-size="6" text-anchor="end" fill="#222" class="t">-4</text>
<line x1="40.10" y1="639.00" x2="94.50" y2="639.00" stroke="#666" stroke-width="0.95"/>
<line x1="53.40" y1="639.00" x2="53.40" y2="640.50" stroke="#999" stroke-width="0.7"/>
<line x1="53.40" y1="592.70" x2="53.40" y2="586.20" stroke="#333" stroke-width="0.75"/>
<line x1="52.00" y1="586.20" x2="54.80" y2="586.20" stroke="#333" stroke-width="0.8"/>
<rect x="48.00" y="592.70" width="10.80" height="46.30" fill="#000"/>
<line x1="69.40" y1="639.00" x2="69.40" y2="640.50" stroke="#999" stroke-width="0.7"/>
<line x1="69.40" y1="579.20" x2="69.40" y2="575.50" stroke="#333" stroke-width="0.75"/>
<line x1="68.00" y1="575.50" x2="70.80" y2="575.50" stroke="#333" stroke-width="0.8"/>
<rect x="64.00" y="579.20" width="10.80" height="59.80" fill="#000"/>
<line x1="84.70" y1="639.00" x2="84.70" y2="640.50" stroke="#999" stroke-width="0.7"/>
<line x1="84.70" y1="598.40" x2="84.70" y2="593.50" stroke="#333" stroke-width="0.75"/>
<line x1="83.30" y1="593.50" x2="86.10" y2="593.50" stroke="#333" stroke-width="0.8"/>
<rect x="79.30" y="598.40" width="10.80" height="40.60" fill="#000"/>
<line x1="53.50" y1="572.70" x2="84.60" y2="572.70" stroke="#5a5a5a" stroke-width="0.8"/>
<text x="69.20" y="571.60" font-size="11.4" text-anchor="middle" fill="#111">n.s.</text>
<line x1="115.50" y1="574.40" x2="115.50" y2="682.20" stroke="#5a5a5a" stroke-width="0.9"/>
<line x1="113.10" y1="574.80" x2="115.50" y2="574.80" stroke="#666" stroke-width="0.9"/>
<line x1="113.10" y1="596.20" x2="115.50" y2="596.20" stroke="#666" stroke-width="0.9"/>
<line x1="113.10" y1="617.60" x2="115.50" y2="617.60" stroke="#666" stroke-width="0.9"/>
<line x1="113.10" y1="639.00" x2="115.50" y2="639.00" stroke="#666" stroke-width="0.9"/>
<line x1="113.10" y1="660.40" x2="115.50" y2="660.40" stroke="#666" stroke-width="0.9"/>
<line x1="113.10" y1="681.80" x2="115.50" y2="681.80" stroke="#666" stroke-width="0.9"/>
<line x1="113.10" y1="639.00" x2="167.50" y2="639.00" stroke="#666" stroke-width="0.95"/>
<line x1="126.40" y1="639.00" x2="126.40" y2="640.50" stroke="#999" stroke-width="0.7"/>
<line x1="126.40" y1="587.60" x2="126.40" y2="583.20" stroke="#333" stroke-width="0.75"/>
<line x1="125.00" y1="583.20" x2="127.80" y2="583.20" stroke="#333" stroke-width="0.8"/>
<rect x="121.00" y="587.60" width="10.80" height="51.40" fill="#000"/>
<line x1="142.40" y1="639.00" x2="142.40" y2="640.50" stroke="#999" stroke-width="0.7"/>
<line x1="142.40" y1="595.50" x2="142.40" y2="593.50" stroke="#333" stroke-width="0.75"/>
<line x1="141.00" y1="593.50" x2="143.80" y2="593.50" stroke="#333" stroke-width="0.8"/>
<rect x="137.00" y="595.50" width="10.80" height="43.50" fill="#000"/>
<line x1="157.70" y1="639.00" x2="157.70" y2="640.50" stroke="#999" stroke-width="0.7"/>
<line x1="157.70" y1="598.00" x2="157.70" y2="592.40" stroke="#333" stroke-width="0.75"/>
<line x1="156.30" y1="592.40" x2="159.10" y2="592.40" stroke="#333" stroke-width="0.8"/>
<rect x="152.30" y="598.00" width="10.80" height="41.00" fill="#000"/>
<line x1="127.00" y1="572.70" x2="158.20" y2="572.70" stroke="#5a5a5a" stroke-width="0.8"/>
<text x="142.30" y="571.60" font-size="11.4" text-anchor="middle" fill="#111">n.s.</text>
<line x1="188.80" y1="574.40" x2="188.80" y2="682.20" stroke="#5a5a5a" stroke-width="0.9"/>
<line x1="186.40" y1="574.80" x2="188.80" y2="574.80" stroke="#666" stroke-width="0.9"/>
<line x1="186.40" y1="596.20" x2="188.80" y2="596.20" stroke="#666" stroke-width="0.9"/>
<line x1="186.40" y1="617.60" x2="188.80" y2="617.60" stroke="#666" stroke-width="0.9"/>
<line x1="186.40" y1="639.00" x2="188.80" y2="639.00" stroke="#666" stroke-width="0.9"/>
<line x1="186.40" y1="660.40" x2="188.80" y2="660.40" stroke="#666" stroke-width="0.9"/>
<line x1="186.40" y1="681.80" x2="188.80" y2="681.80" stroke="#666" stroke-width="0.9"/>
<line x1="186.40" y1="639.00" x2="240.80" y2="639.00" stroke="#666" stroke-width="0.95"/>
<line x1="199.70" y1="639.00" x2="199.70" y2="640.50" stroke="#999" stroke-width="0.7"/>
<line x1="199.70" y1="591.50" x2="199.70" y2="575.50" stroke="#333" stroke-width="0.75"/>
<line x1="198.30" y1="575.50" x2="201.10" y2="575.50" stroke="#333" stroke-width="0.8"/>
<rect x="194.30" y="591.50" width="10.80" height="47.50" fill="#000"/>
<line x1="215.70" y1="639.00" x2="215.70" y2="640.50" stroke="#999" stroke-width="0.7"/>
<line x1="215.70" y1="600.00" x2="215.70" y2="593.50" stroke="#333" stroke-width="0.75"/>
<line x1="214.30" y1="593.50" x2="217.10" y2="593.50" stroke="#333" stroke-width="0.8"/>
<rect x="210.30" y="600.00" width="10.80" height="39.00" fill="#000"/>
<line x1="231.00" y1="639.00" x2="231.00" y2="640.50" stroke="#999" stroke-width="0.7"/>
<line x1="231.00" y1="590.40" x2="231.00" y2="582.40" stroke="#333" stroke-width="0.75"/>
<line x1="229.60" y1="582.40" x2="232.40" y2="582.40" stroke="#333" stroke-width="0.8"/>
<rect x="225.60" y="590.40" width="10.80" height="48.60" fill="#000"/>
<line x1="200.00" y1="572.70" x2="231.20" y2="572.70" stroke="#5a5a5a" stroke-width="0.8"/>
<text x="215.80" y="571.60" font-size="11.4" text-anchor="middle" fill="#111">n.s.</text>
<line x1="42.50" y1="692.90" x2="42.50" y2="800.70" stroke="#5a5a5a" stroke-width="0.9"/>
<line x1="40.10" y1="693.30" x2="42.50" y2="693.30" stroke="#666" stroke-width="0.9"/>
<text x="38.80" y="695.40" font-size="6" text-anchor="end" fill="#222" class="t">6</text>
<line x1="40.10" y1="714.70" x2="42.50" y2="714.70" stroke="#666" stroke-width="0.9"/>
<text x="38.80" y="716.80" font-size="6" text-anchor="end" fill="#222" class="t">4</text>
<line x1="40.10" y1="736.10" x2="42.50" y2="736.10" stroke="#666" stroke-width="0.9"/>
<text x="38.80" y="738.20" font-size="6" text-anchor="end" fill="#222" class="t">2</text>
<line x1="40.10" y1="757.50" x2="42.50" y2="757.50" stroke="#666" stroke-width="0.9"/>
<text x="38.80" y="759.60" font-size="6" text-anchor="end" fill="#222" class="t">0</text>
<line x1="40.10" y1="778.90" x2="42.50" y2="778.90" stroke="#666" stroke-width="0.9"/>
<text x="38.80" y="781.00" font-size="6" text-anchor="end" fill="#222" class="t">-2</text>
<line x1="40.10" y1="800.30" x2="42.50" y2="800.30" stroke="#666" stroke-width="0.9"/>
<text x="38.80" y="802.40" font-size="6" text-anchor="end" fill="#222" class="t">-4</text>
<line x1="40.10" y1="757.50" x2="94.50" y2="757.50" stroke="#666" stroke-width="0.95"/>
<line x1="53.40" y1="757.50" x2="53.40" y2="759.00" stroke="#999" stroke-width="0.7"/>
<line x1="53.40" y1="774.50" x2="53.40" y2="779.30" stroke="#333" stroke-width="0.75"/>
<line x1="52.00" y1="779.30" x2="54.80" y2="779.30" stroke="#333" stroke-width="0.8"/>
<rect x="48.00" y="757.50" width="10.80" height="17.00" fill="#000"/>
<line x1="69.40" y1="757.50" x2="69.40" y2="759.00" stroke="#999" stroke-width="0.7"/>
<line x1="69.40" y1="778.80" x2="69.40" y2="782.40" stroke="#333" stroke-width="0.75"/>
<line x1="68.00" y1="782.40" x2="70.80" y2="782.40" stroke="#333" stroke-width="0.8"/>
<rect x="64.00" y="757.50" width="10.80" height="21.30" fill="#000"/>
<line x1="84.70" y1="757.50" x2="84.70" y2="759.00" stroke="#999" stroke-width="0.7"/>
<line x1="84.70" y1="772.40" x2="84.70" y2="777.30" stroke="#333" stroke-width="0.75"/>
<line x1="83.30" y1="777.30" x2="86.10" y2="777.30" stroke="#333" stroke-width="0.8"/>
<rect x="79.30" y="757.50" width="10.80" height="14.90" fill="#000"/>
<line x1="53.50" y1="691.20" x2="84.60" y2="691.20" stroke="#5a5a5a" stroke-width="0.8"/>
<text x="69.20" y="690.40" font-size="11.4" text-anchor="middle" fill="#111">n.s.</text>
<line x1="115.50" y1="692.90" x2="115.50" y2="800.70" stroke="#5a5a5a" stroke-width="0.9"/>
<line x1="113.10" y1="693.30" x2="115.50" y2="693.30" stroke="#666" stroke-width="0.9"/>
<line x1="113.10" y1="714.70" x2="115.50" y2="714.70" stroke="#666" stroke-width="0.9"/>
<line x1="113.10" y1="736.10" x2="115.50" y2="736.10" stroke="#666" stroke-width="0.9"/>
<line x1="113.10" y1="757.50" x2="115.50" y2="757.50" stroke="#666" stroke-width="0.9"/>
<line x1="113.10" y1="778.90" x2="115.50" y2="778.90" stroke="#666" stroke-width="0.9"/>
<line x1="113.10" y1="800.30" x2="115.50" y2="800.30" stroke="#666" stroke-width="0.9"/>
<line x1="113.10" y1="757.50" x2="167.50" y2="757.50" stroke="#666" stroke-width="0.95"/>
<line x1="126.40" y1="757.50" x2="126.40" y2="759.00" stroke="#999" stroke-width="0.7"/>
<line x1="126.40" y1="774.50" x2="126.40" y2="780.00" stroke="#333" stroke-width="0.75"/>
<line x1="125.00" y1="780.00" x2="127.80" y2="780.00" stroke="#333" stroke-width="0.8"/>
<rect x="121.00" y="757.50" width="10.80" height="17.00" fill="#000"/>
<line x1="142.40" y1="757.50" x2="142.40" y2="759.00" stroke="#999" stroke-width="0.7"/>
<line x1="142.40" y1="780.70" x2="142.40" y2="788.80" stroke="#333" stroke-width="0.75"/>
<line x1="141.00" y1="788.80" x2="143.80" y2="788.80" stroke="#333" stroke-width="0.8"/>
<rect x="137.00" y="757.50" width="10.80" height="23.20" fill="#000"/>
<line x1="157.70" y1="757.50" x2="157.70" y2="759.00" stroke="#999" stroke-width="0.7"/>
<line x1="157.70" y1="781.60" x2="157.70" y2="785.30" stroke="#333" stroke-width="0.75"/>
<line x1="156.30" y1="785.30" x2="159.10" y2="785.30" stroke="#333" stroke-width="0.8"/>
<rect x="152.30" y="757.50" width="10.80" height="24.10" fill="#000"/>
<line x1="127.00" y1="691.20" x2="158.20" y2="691.20" stroke="#5a5a5a" stroke-width="0.8"/>
<text x="142.30" y="690.40" font-size="11.4" text-anchor="middle" fill="#111">n.s.</text>
<line x1="188.80" y1="692.90" x2="188.80" y2="800.70" stroke="#5a5a5a" stroke-width="0.9"/>
<line x1="186.40" y1="693.30" x2="188.80" y2="693.30" stroke="#666" stroke-width="0.9"/>
<line x1="186.40" y1="714.70" x2="188.80" y2="714.70" stroke="#666" stroke-width="0.9"/>
<line x1="186.40" y1="736.10" x2="188.80" y2="736.10" stroke="#666" stroke-width="0.9"/>
<line x1="186.40" y1="757.50" x2="188.80" y2="757.50" stroke="#666" stroke-width="0.9"/>
<line x1="186.40" y1="778.90" x2="188.80" y2="778.90" stroke="#666" stroke-width="0.9"/>
<line x1="186.40" y1="800.30" x2="188.80" y2="800.30" stroke="#666" stroke-width="0.9"/>
<line x1="186.40" y1="757.50" x2="240.80" y2="757.50" stroke="#666" stroke-width="0.95"/>
<line x1="199.70" y1="757.50" x2="199.70" y2="759.00" stroke="#999" stroke-width="0.7"/>
<line x1="199.70" y1="776.00" x2="199.70" y2="784.20" stroke="#333" stroke-width="0.75"/>
<line x1="198.30" y1="784.20" x2="201.10" y2="784.20" stroke="#333" stroke-width="0.8"/>
<rect x="194.30" y="757.50" width="10.80" height="18.50" fill="#000"/>
<line x1="215.70" y1="757.50" x2="215.70" y2="759.00" stroke="#999" stroke-width="0.7"/>
<line x1="215.70" y1="783.50" x2="215.70" y2="788.00" stroke="#333" stroke-width="0.75"/>
<line x1="214.30" y1="788.00" x2="217.10" y2="788.00" stroke="#333" stroke-width="0.8"/>
<rect x="210.30" y="757.50" width="10.80" height="26.00" fill="#000"/>
<line x1="231.00" y1="757.50" x2="231.00" y2="759.00" stroke="#999" stroke-width="0.7"/>
<line x1="231.00" y1="771.60" x2="231.00" y2="777.80" stroke="#333" stroke-width="0.75"/>
<line x1="229.60" y1="777.80" x2="232.40" y2="777.80" stroke="#333" stroke-width="0.8"/>
<rect x="225.60" y="757.50" width="10.80" height="14.10" fill="#000"/>
<line x1="200.00" y1="691.20" x2="231.20" y2="691.20" stroke="#5a5a5a" stroke-width="0.8"/>
<text x="215.80" y="690.40" font-size="11.4" text-anchor="middle" fill="#111">n.s.</text>
<text x="3.90" y="823.00" font-size="12.6" text-anchor="start" fill="#111">TGF-<tspan font-family="Liberation Serif, serif">β</tspan></text>
<text x="53.50" y="823.60" font-size="12" text-anchor="middle" fill="#111" class="s">+</text>
<text x="69.40" y="823.60" font-size="12" text-anchor="middle" fill="#111" class="s">+</text>
<text x="84.90" y="823.60" font-size="12" text-anchor="middle" fill="#111" class="s">+</text>
<text x="126.50" y="823.60" font-size="12" text-anchor="middle" fill="#111" class="s">+</text>
<text x="142.40" y="823.60" font-size="12" text-anchor="middle" fill="#111" class="s">+</text>
<text x="157.80" y="823.60" font-size="12" text-anchor="middle" fill="#111" class="s">+</text>
<text x="199.80" y="823.60" font-size="12" text-anchor="middle" fill="#111" class="s">+</text>
<text x="215.70" y="823.60" font-size="12" text-anchor="middle" fill="#111" class="s">+</text>
<text x="231.10" y="823.60" font-size="12" text-anchor="middle" fill="#111" class="s">+</text>
<text x="3.90" y="839.80" font-size="12.6" text-anchor="start" fill="#111">IL-4</text>
<text x="53.50" y="838.40" font-size="12" text-anchor="middle" fill="#111" class="s">-</text>
<text x="69.40" y="839.20" font-size="12" text-anchor="middle" fill="#111" class="s">+</text>
<text x="84.90" y="839.20" font-size="12" text-anchor="middle" fill="#111" class="s">+</text>
<text x="126.50" y="838.40" font-size="12" text-anchor="middle" fill="#111" class="s">-</text>
<text x="142.40" y="839.20" font-size="12" text-anchor="middle" fill="#111" class="s">+</text>
<text x="157.80" y="839.20" font-size="12" text-anchor="middle" fill="#111" class="s">+</text>
<text x="199.80" y="838.40" font-size="12" text-anchor="middle" fill="#111" class="s">-</text>
<text x="215.70" y="839.20" font-size="12" text-anchor="middle" fill="#111" class="s">+</text>
<text x="231.10" y="839.20" font-size="12" text-anchor="middle" fill="#111" class="s">+</text>
<text x="3.90" y="856.60" font-size="12.6" text-anchor="start" fill="#111">IL-10</text>
<text x="53.50" y="855.60" font-size="12" text-anchor="middle" fill="#111" class="s">-</text>
<text x="69.40" y="855.60" font-size="12" text-anchor="middle" fill="#111" class="s">-</text>
<text x="84.90" y="856.40" font-size="12" text-anchor="middle" fill="#111" class="s">+</text>
<text x="126.50" y="855.60" font-size="12" text-anchor="middle" fill="#111" class="s">-</text>
<text x="142.40" y="855.60" font-size="12" text-anchor="middle" fill="#111" class="s">-</text>
<text x="157.80" y="856.40" font-size="12" text-anchor="middle" fill="#111" class="s">+</text>
<text x="199.80" y="855.60" font-size="12" text-anchor="middle" fill="#111" class="s">-</text>
<text x="215.70" y="855.60" font-size="12" text-anchor="middle" fill="#111" class="s">-</text>
<text x="231.10" y="856.40" font-size="12" text-anchor="middle" fill="#111" class="s">+</text>
<text x="3.90" y="873.10" font-size="12.6" text-anchor="start" fill="#111">IL-1<tspan font-family="Liberation Serif, serif">β</tspan></text>
<text x="53.50" y="872.90" font-size="12" text-anchor="middle" fill="#111" class="s">-</text>
<text x="69.40" y="872.90" font-size="12" text-anchor="middle" fill="#111" class="s">-</text>
<text x="84.90" y="873.70" font-size="12" text-anchor="middle" fill="#111" class="s">+</text>
<text x="126.50" y="872.90" font-size="12" text-anchor="middle" fill="#111" class="s">-</text>
<text x="142.40" y="872.90" font-size="12" text-anchor="middle" fill="#111" class="s">-</text>
<text x="157.80" y="873.70" font-size="12" text-anchor="middle" fill="#111" class="s">+</text>
<text x="199.80" y="872.90" font-size="12" text-anchor="middle" fill="#111" class="s">-</text>
<text x="215.70" y="872.90" font-size="12" text-anchor="middle" fill="#111" class="s">-</text>
<text x="231.10" y="873.70" font-size="12" text-anchor="middle" fill="#111" class="s">+</text>
</svg>
</body></html>
